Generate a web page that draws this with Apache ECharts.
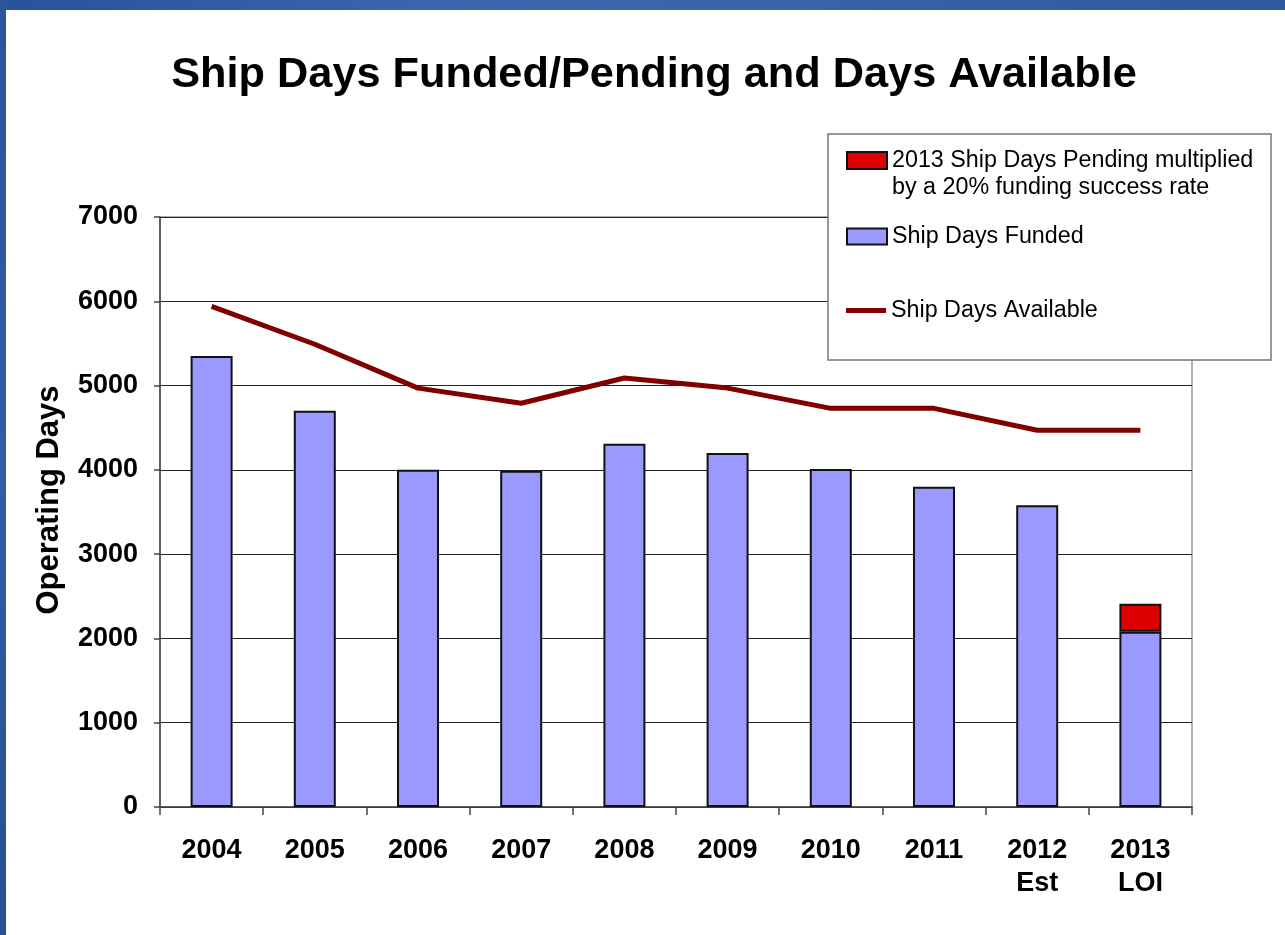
<!DOCTYPE html>
<html>
<head>
<meta charset="utf-8">
<script src="https://cdn.jsdelivr.net/npm/echarts@6/dist/echarts.min.js"></script>
<style>
  html, body { margin: 0; padding: 0; background: #fff; }
  #chart { position: absolute; left: 0; top: 0; width: 1285px; height: 935px; }
  #topbar { position: absolute; left: 0; top: 0; width: 1285px; height: 10px;
    background: linear-gradient(90deg, #285398 0%, #3d67ac 35%, #3a64a8 60%, #2c5a9d 100%); }
  #leftbar { position: absolute; left: 0; top: 0; width: 6px; height: 935px;
    background: linear-gradient(180deg, #2a5599 0%, #2f5ea3 50%, #24528f 100%); }
</style>
</head>
<body>
<div id="chart"></div>
<div id="topbar"></div>
<div id="leftbar"></div>
<script>
const categories = ['2004', '2005', '2006', '2007', '2008', '2009', '2010', '2011', '2012\nEst', '2013\nLOI'];
const shipDaysFunded = [5350, 4700, 4000, 3990, 4310, 4200, 4010, 3800, 3580, 2080];
const shipDaysPending = ['-', '-', '-', '-', '-', '-', '-', '-', '-', 330];
const shipDaysAvailable = [5940, 5490, 4970, 4790, 5090, 4970, 4730, 4730, 4470, 4470];
const yTicks = { min: 0, max: 7000, interval: 1000 };

const FONT = '"Liberation Sans", Arial, sans-serif';
const chart = echarts.init(document.getElementById('chart'), null, { renderer: 'canvas' });

const legendText = { fontFamily: FONT, fontSize: 23.3, color: '#000', lineHeight: 27 };

chart.setOption({
  animation: false,
  backgroundColor: '#fff',
  title: {
    text: 'Ship Days Funded/Pending and Days Available',
    left: 649, top: 49, textAlign: 'center',
    textStyle: { fontFamily: FONT, fontSize: 43.3, fontWeight: 'bold', color: '#000' }
  },
  grid: {
    left: 160, right: 93, top: 217, bottom: 128,
    show: true, borderColor: '#999', borderWidth: 1.5, backgroundColor: 'transparent'
  },
  graphic: [{
    type: 'rect', z: 3, silent: true,
    shape: { x: 828, y: 134, width: 443, height: 226 },
    style: { fill: '#fff', stroke: '#777', lineWidth: 1.5 }
  }],
  legend: [
    {
      data: [{ name: '2013 Ship Days Pending multiplied by a 20% funding success rate', icon: 'rect' }],
      left: 846, top: 120, padding: 0, itemWidth: 40, itemHeight: 17, z: 5,
      formatter: () => '\n2013 Ship Days Pending multiplied\nby a 20% funding success rate',
      textStyle: legendText
    },
    {
      data: [{ name: 'Ship Days Funded', icon: 'rect' }],
      left: 846, top: 223, padding: 0, itemWidth: 40, itemHeight: 16, z: 5,
      textStyle: legendText
    },
    {
      data: [{ name: 'Ship Days Available', icon: 'rect' }],
      left: 846, top: 297, padding: 0, itemWidth: 40, itemHeight: 5, z: 5,
      textStyle: legendText
    }
  ],
  xAxis: {
    type: 'category',
    data: categories,
    boundaryGap: true,
    axisLine: { show: true, lineStyle: { color: '#444', width: 1.5 } },
    axisTick: { show: true, alignWithLabel: false, length: 8, lineStyle: { color: '#444', width: 1.5 } },
    axisLabel: {
      interval: 0, margin: 27, color: '#000',
      fontFamily: FONT, fontSize: 27, fontWeight: 'bold', lineHeight: 33
    },
    splitLine: { show: false }
  },
  yAxis: {
    type: 'value',
    min: yTicks.min, max: yTicks.max, interval: yTicks.interval,
    name: 'Operating Days',
    nameLocation: 'middle',
    nameGap: 95,
    nameTextStyle: { fontFamily: FONT, fontSize: 31, fontWeight: 'bold', color: '#000', padding: [0, 0, 0, 24] },
    axisLine: { show: true, lineStyle: { color: '#444', width: 1.5 } },
    axisTick: { show: true, length: 6, lineStyle: { color: '#444', width: 1.5 } },
    axisLabel: { margin: 22, color: '#000', fontFamily: FONT, fontSize: 27, fontWeight: 'bold', formatter: (v) => String(v) },
    splitLine: { show: true, lineStyle: { color: '#222', width: 1 } }
  },
  series: [
    {
      name: 'Ship Days Funded',
      type: 'bar',
      stack: 'days',
      data: shipDaysFunded,
      barWidth: 42,
      itemStyle: { color: '#9999FF', borderColor: '#111', borderWidth: 2 }
    },
    {
      name: '2013 Ship Days Pending multiplied by a 20% funding success rate',
      type: 'bar',
      stack: 'days',
      data: shipDaysPending,
      barWidth: 42,
      itemStyle: { color: '#DD0000', borderColor: '#111', borderWidth: 2 }
    },
    {
      name: 'Ship Days Available',
      type: 'line',
      data: shipDaysAvailable,
      symbol: 'none',
      showSymbol: false,
      lineStyle: { color: '#800000', width: 5 },
      itemStyle: { color: '#800000' },
      z: 4
    }
  ]
});
</script>
</body>
</html>
